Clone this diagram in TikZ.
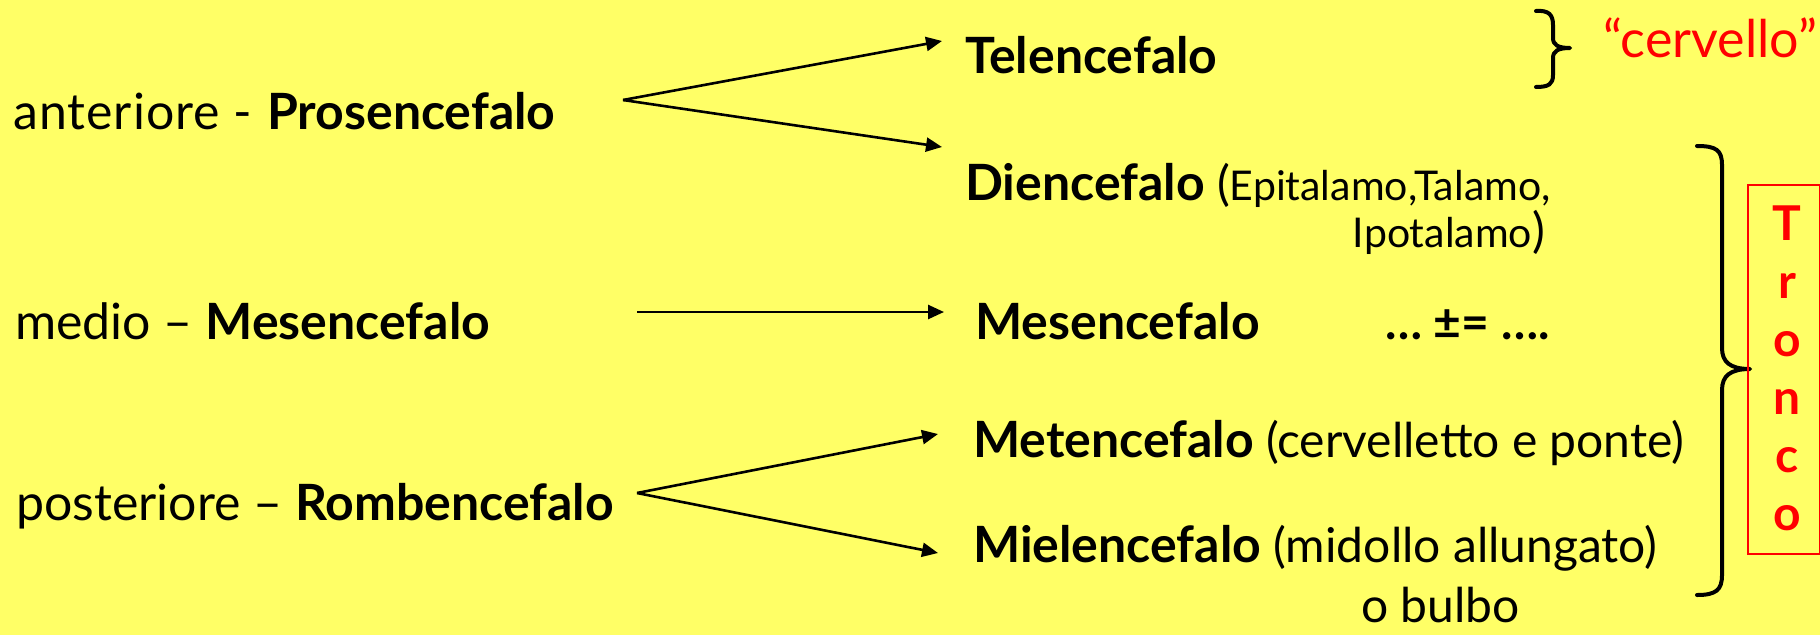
\documentclass[tikz,border=0pt]{standalone}
\usepackage{fontspec}
\setmainfont{Lato}
\usetikzlibrary{arrows.meta}
\definecolor{bg}{RGB}{255,255,102}
\definecolor{rd}{RGB}{255,0,0}
\begin{document}
\begin{tikzpicture}[x=1pt,y=-1pt,
  txt/.style={anchor=base west, inner sep=0pt, font=\fontsize{48}{58}\selectfont},
  lft/.style={anchor=base west, inner sep=0pt, font=\fontsize{50}{60}\selectfont},
  txtr/.style={anchor=base east, inner sep=0pt, font=\fontsize{48}{58}\selectfont},
  tron/.style={anchor=base, inner sep=0pt, text=rd, font=\bfseries\fontsize{48}{58}\selectfont},
  arr/.style={line width=2.6pt, -{Triangle[length=16pt,width=14pt]}},
  bracestyle/.style={line width=4pt, line cap=round, line join=round}]
\fill[bg] (0,0) rectangle (1820,635);
\useasboundingbox (0,0) rectangle (1820,635);
\newcommand{\sm}{\fontsize{41}{46}\selectfont}
\newcommand{\bt}[1]{{\bfseries\fontsize{50}{60}\selectfont #1}}

% left column
\node[lft] (ant) at (13,129) {{\addfontfeature{LetterSpace=2}anteriore - }\textbf{Prosencefalo}};
\node[lft] (med) at (15,339) {medio – \textbf{Mesencefalo}};
\node[lft] (post) at (16,520) {posteriore – \textbf{Rombencefalo}};

% right column
\node[txt] (tel) at (965,73) {\bt{Telencefalo}};
\node[txt] (die) at (965,200) {\bt{Diencefalo} ({\sm Epitalamo,Talamo,}};
\node[txtr] (ipo) at (1545,247) {{\sm Ipotalamo})};
\node[txt] (mes) at (975,339) {\bt{Mesencefalo}};
\node[txt, font=\bfseries\fontsize{48}{58}\selectfont] (eq) at (1385,339) {…\ ±= ….};
\node[txt] (met) at (973,457) {\bt{Metencefalo} (cervelletto e ponte)};
\node[txt] (mie) at (973,562) {\bt{Mielencefalo} (midollo allungato)};
\node[txt] (bul) at (1361,622) {o bulbo};
\node[txt, text=rd, font=\fontsize{52}{60}\selectfont] (cer) at (1603,57) {“cervello”};

% arrows
\coordinate (sA) at (623,100);
\coordinate (eT) at (942,41);
\coordinate (eD) at (942,147);
\coordinate (sM) at (637,312);
\coordinate (eM) at (944,312);
\coordinate (sR) at (637,493);
\coordinate (eMet) at (938,434);
\coordinate (eMie) at (938,553);
\draw[arr] (sA) -- (eT);
\draw[arr] (sA) -- (eD);
\draw[arr] (sM) -- (eM);
\draw[arr] (sR) -- (eMet);
\draw[arr] (sR) -- (eMie);

% brace for cervello
\draw[bracestyle] (1536,11) .. controls (1549,10) and (1553,15) .. (1553,25) -- (1553,38)
  .. controls (1553,45) and (1558,48) .. (1570,48)
  .. controls (1558,48) and (1553,51) .. (1553,58) -- (1553,75)
  .. controls (1553,84) and (1549,87) .. (1536,87);

% brace for Tronco
\draw[bracestyle] (1697,146) .. controls (1716,146) and (1722,150) .. (1722,165) -- (1722,348)
  .. controls (1722,362) and (1730,369) .. (1750,369)
  .. controls (1730,369) and (1722,376) .. (1722,390) -- (1722,575)
  .. controls (1722,590) and (1716,595) .. (1697,595);

% Tronco box
\draw[rd, line width=1.5pt] (1748,185) rectangle (1819.5,554);
\foreach \l/\y [count=\i] in {T/240,r/298,o/356,n/414,c/472,o/530}
  \node[tron] (tr\i) at (1787,\y) {\l};
\end{tikzpicture}
\end{document}
